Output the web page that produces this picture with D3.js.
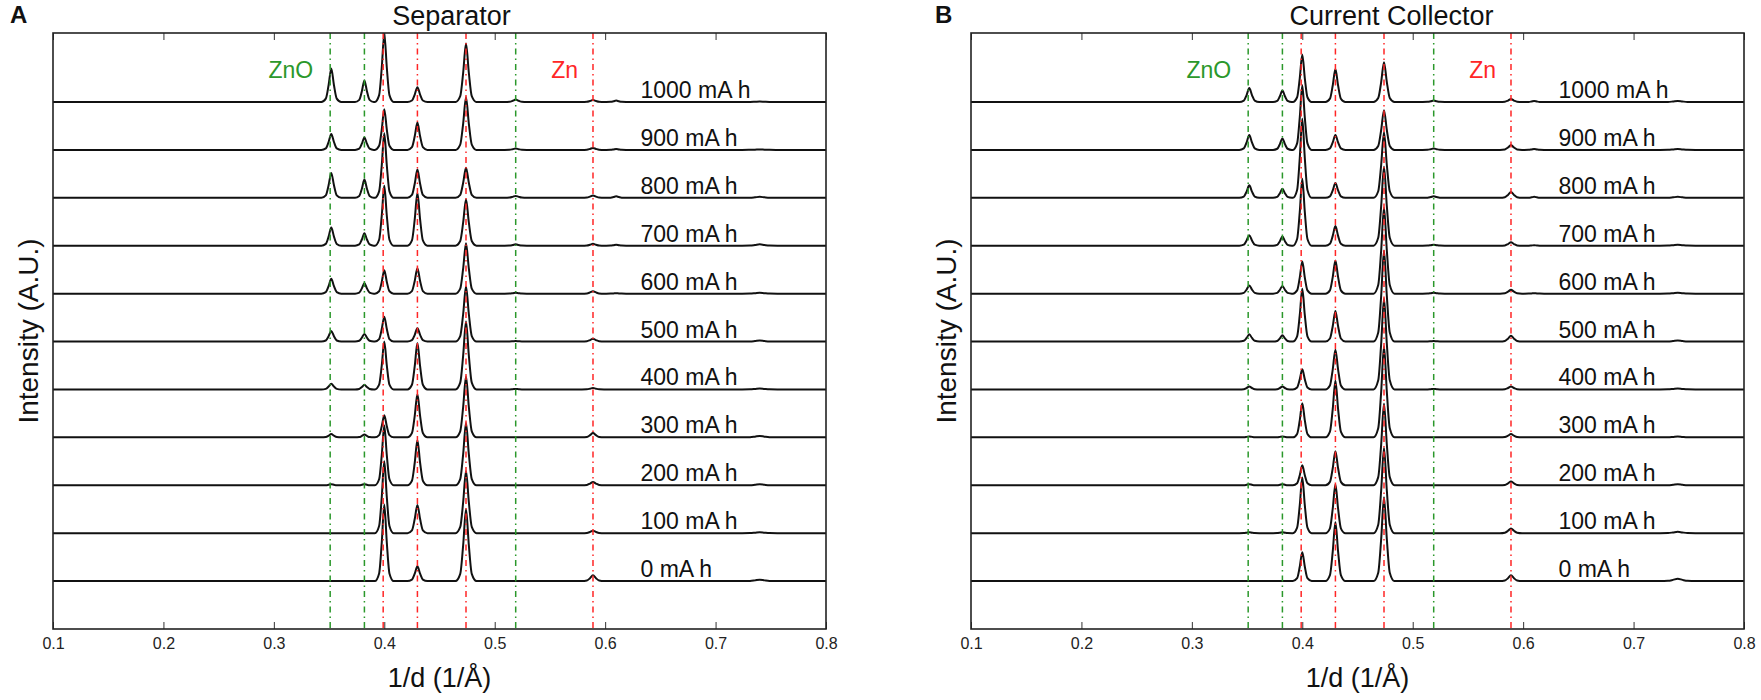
<!DOCTYPE html>
<html>
<head>
<meta charset="utf-8">
<script src="https://cdn.jsdelivr.net/npm/d3@7/dist/d3.min.js"></script>
<style>
  body { margin: 0; background: #fff; }
  svg text { font-family: "Liberation Sans", Arial, Helvetica, sans-serif; fill: #111; }
</style>
</head>
<body>
<svg id="chart" width="1761" height="700"></svg>
<script>
// capacity of each trace, bottom (offset 0) to top (offset 10)
const capacities = ['0 mA h', '100 mA h', '200 mA h', '300 mA h', '400 mA h', '500 mA h',
  '600 mA h', '700 mA h', '800 mA h', '900 mA h', '1000 mA h'];

// peak centres in 1/d (1/Å) and foot half-widths
const peakPositions = [0.352, 0.382, 0.400, 0.430, 0.474, 0.519, 0.589, 0.610, 0.740];
const peakWidths    = [0.009, 0.0085, 0.0085, 0.009, 0.0095, 0.01, 0.01, 0.009, 0.016];

// peak heights (one trace spacing = 1), per capacity
const separatorHeights = [
  [0.00, 0.00, 1.60, 0.31, 1.50, 0.00, 0.12, 0.00, 0.03], // 0
  [0.00, 0.00, 1.50, 0.59, 1.30, 0.00, 0.05, 0.00, 0.02], // 100
  [0.02, 0.02, 1.25, 0.94, 1.30, 0.00, 0.07, 0.00, 0.02], // 200
  [0.07, 0.06, 0.46, 0.90, 1.27, 0.00, 0.09, 0.00, 0.03], // 300
  [0.12, 0.10, 1.00, 0.97, 1.42, 0.01, 0.03, 0.00, 0.02], // 400
  [0.22, 0.16, 0.52, 0.28, 1.15, 0.01, 0.06, 0.00, 0.02], // 500
  [0.31, 0.22, 0.49, 0.53, 1.05, 0.02, 0.05, 0.01, 0.02], // 600
  [0.38, 0.26, 1.25, 1.10, 0.97, 0.03, 0.04, 0.02, 0.03], // 700
  [0.52, 0.38, 1.35, 0.59, 0.63, 0.04, 0.05, 0.03, 0.02], // 800
  [0.33, 0.26, 0.85, 0.57, 1.10, 0.03, 0.04, 0.02, 0.01], // 900
  [0.70, 0.45, 1.43, 0.31, 1.22, 0.05, 0.04, 0.03, 0.01]  // 1000
];

// same for panel B
const collectorHeights = [
  [0.00, 0.00, 0.60, 1.23, 1.75, 0.00, 0.12, 0.00, 0.05], // 0
  [0.02, 0.02, 1.16, 1.02, 1.78, 0.00, 0.10, 0.00, 0.03], // 100
  [0.02, 0.02, 0.42, 0.71, 1.70, 0.00, 0.08, 0.00, 0.02], // 200
  [0.02, 0.02, 0.71, 1.18, 1.90, 0.00, 0.07, 0.00, 0.02], // 300
  [0.06, 0.06, 0.42, 0.83, 1.90, 0.01, 0.06, 0.00, 0.02], // 400
  [0.15, 0.13, 1.10, 0.64, 1.90, 0.01, 0.12, 0.00, 0.02], // 500
  [0.17, 0.16, 0.67, 0.69, 1.80, 0.02, 0.08, 0.01, 0.02], // 600
  [0.22, 0.19, 1.40, 0.41, 1.65, 0.02, 0.07, 0.01, 0.02], // 700
  [0.26, 0.19, 1.65, 0.31, 1.37, 0.03, 0.12, 0.02, 0.02], // 800
  [0.31, 0.24, 1.35, 0.31, 0.83, 0.03, 0.10, 0.02, 0.02], // 900
  [0.29, 0.24, 0.99, 0.69, 0.83, 0.03, 0.06, 0.02, 0.02]  // 1000
];

// shape of one peak: [offset in half-widths, fraction of height]
const peakProfile = [[-1, 0], [-0.55, 0.1], [-0.27, 0.5], [0, 1], [0.27, 0.5], [0.55, 0.1], [1, 0]];

const znoLines = [0.351, 0.382, 0.519];
const znLines = [0.399, 0.430, 0.474, 0.589];
const xTicks = [0.1, 0.2, 0.3, 0.4, 0.5, 0.6, 0.7, 0.8];

const panels = [
  {letter: 'A', letterX: -43, title: 'Separator', titleShift: 12, left: 53, heights: separatorHeights},
  {letter: 'B', letterX: -36, title: 'Current Collector', titleShift: 34, left: 971, heights: collectorHeights}
];

const svg = d3.select('#chart');
const plotTop = 33, width = 773, height = 596;

const x = d3.scaleLinear().domain([0.1, 0.8]).range([0, width]);
const y = d3.scaleLinear().domain([-1.0, 11.44]).range([height, 0]);

const line = d3.line()
  .x(d => x(d[0]))
  .y(d => y(d[1]))
  .curve(d3.curveMonotoneX);

function tracePoints(row, offset) {
  const pts = [[0.1, offset]];
  row.forEach((h, i) => {
    if (h <= 0) return;
    peakProfile.forEach(p => {
      pts.push([peakPositions[i] + p[0] * peakWidths[i], offset + p[1] * h]);
    });
  });
  pts.push([0.8, offset]);
  return pts;
}

panels.forEach((panel, pi) => {
  const g = svg.append('g').attr('transform', `translate(${panel.left}, ${plotTop})`);

  g.append('clipPath').attr('id', `clip${pi}`)
    .append('rect').attr('width', width).attr('height', height);

  // spectra
  const traces = g.append('g').attr('clip-path', `url(#clip${pi})`);
  traces.selectAll('path.trace')
    .data(panel.heights)
    .join('path')
    .attr('class', 'trace')
    .attr('d', (row, i) => line(tracePoints(row, i)))
    .attr('fill', 'none')
    .attr('stroke', '#111')
    .attr('stroke-width', 2)
    .attr('stroke-linejoin', 'round');

  // reference lines
  const refs = znoLines.map(v => ({v, c: '#2b982b'})).concat(znLines.map(v => ({v, c: '#ff2626'})));
  g.selectAll('line.ref')
    .data(refs)
    .join('line')
    .attr('class', 'ref')
    .attr('x1', d => x(d.v)).attr('x2', d => x(d.v))
    .attr('y1', 0).attr('y2', height)
    .attr('stroke', d => d.c)
    .attr('stroke-width', 1.5)
    .attr('stroke-dasharray', '6,4,1.5,4');

  // capacity labels
  g.selectAll('text.cap')
    .data(capacities)
    .join('text')
    .attr('class', 'cap')
    .attr('x', x(0.632))
    .attr('y', (d, i) => y(i) - 4)
    .attr('font-size', 23)
    .text(d => d);

  g.append('text')
    .attr('x', x(znoLines[0]) - 17).attr('y', 45)
    .attr('text-anchor', 'end')
    .attr('font-size', 23)
    .style('fill', '#2b982b')
    .text('ZnO');
  g.append('text')
    .attr('x', x(znLines[3]) - 15).attr('y', 45)
    .attr('text-anchor', 'end')
    .attr('font-size', 23)
    .style('fill', '#ff2626')
    .text('Zn');

  // axes
  const bottomAxis = g.append('g')
    .attr('transform', `translate(0, ${height})`)
    .call(d3.axisBottom(x).tickValues(xTicks).tickSize(-7).tickPadding(8.5).tickFormat(d3.format('.1f')));
  const topAxis = g.append('g')
    .call(d3.axisTop(x).tickValues(xTicks).tickSize(-7).tickFormat(''));
  [bottomAxis, topAxis].forEach(a => {
    a.select('.domain').remove();
    a.selectAll('line').attr('stroke', '#333');
  });
  bottomAxis.selectAll('text')
    .attr('font-size', 16)
    .style('font-family', '"Liberation Sans", Arial, sans-serif')
    .style('fill', '#222');

  g.append('rect')
    .attr('width', width).attr('height', height)
    .attr('fill', 'none')
    .attr('stroke', '#222')
    .attr('stroke-width', 1.6);

  // titles and axis labels
  g.append('text')
    .attr('x', width / 2 + panel.titleShift).attr('y', -8)
    .attr('text-anchor', 'middle')
    .attr('font-size', 27)
    .text(panel.title);
  g.append('text')
    .attr('x', panel.letterX).attr('y', -10)
    .attr('font-size', 24)
    .attr('font-weight', 'bold')
    .text(panel.letter);
  g.append('text')
    .attr('x', width / 2).attr('y', height + 58)
    .attr('text-anchor', 'middle')
    .attr('font-size', 27)
    .text('1/d (1/Å)');
  g.append('text')
    .attr('transform', `translate(-15, ${height / 2}) rotate(-90)`)
    .attr('text-anchor', 'middle')
    .attr('font-size', 28)
    .text('Intensity (A.U.)');
});
</script>
</body>
</html>
